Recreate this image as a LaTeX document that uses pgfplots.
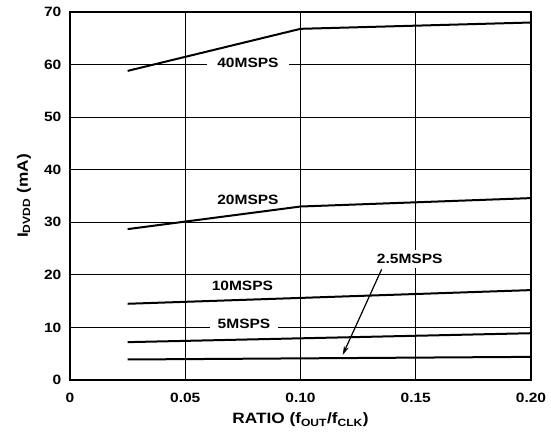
\documentclass[border=0pt]{standalone}
\usepackage{fontspec}
\setmainfont{Liberation Sans}[FakeStretch=1.15]
\usepackage{pgfplots}
\pgfplotsset{compat=1.18}
\usetikzlibrary{arrows.meta}
\begin{document}
\fontsize{13.5}{15}\selectfont\bfseries
\begin{tikzpicture}
\begin{axis}[name=ax, scale only axis, width=461pt, height=368pt,
  xmin=0, xmax=0.2, ymin=0, ymax=70,
  xtick={0,0.05,0.10,0.15,0.20}, xticklabels={0,0.05,0.10,0.15,0.20},
  ytick={0,10,20,30,40,50,60,70},
  /pgf/number format/assume math mode=true,
  grid=major, major grid style={black, line width=0.8pt},
  axis line style={line width=1.6pt}, major tick length=0pt,
  tick label style={font=\fontsize{13.5}{15}\selectfont\bfseries},
  yticklabel style={xshift=-4pt},
  xticklabel style={yshift=-8pt},
  xlabel={RATIO (f\textsubscript{OUT}/f\textsubscript{CLK})},
  ylabel={I\textsubscript{DVDD} (mA)},
  xlabel style={at={(axis description cs:0.5,-0.109)}, anchor=center, font=\fontsize{15}{17}\selectfont\bfseries},
  ylabel style={at={(axis description cs:-0.1,0.5)}, anchor=center, font=\fontsize{15}{17}\selectfont\bfseries},
  no markers,
  clip=false,
]
\addplot[black, line width=2pt] coordinates {(0.025,58.8) (0.10,66.8) (0.20,68.0)};
\addplot[black, line width=2pt] coordinates {(0.025,28.7) (0.10,33.0) (0.20,34.6)};
\addplot[black, line width=2pt] coordinates {(0.025,14.5) (0.20,17.1)};
\addplot[black, line width=2pt] coordinates {(0.025,7.2) (0.20,8.9)};
\addplot[black, line width=2pt] coordinates {(0.025,3.9) (0.20,4.4)};
\node[fill=white, inner xsep=10pt, inner ysep=2pt] at (axis cs:0.0772,60.3) {40MSPS};
\node[fill=white, inner xsep=6pt, inner ysep=2pt] at (axis cs:0.0772,34.2) {20MSPS};
\node[fill=white, inner xsep=6pt, inner ysep=2pt] at (axis cs:0.0748,17.9) {10MSPS};
\node[fill=white, inner xsep=8pt, inner ysep=2pt] at (axis cs:0.0755,10.65) {5MSPS};
\node[fill=white, inner xsep=6pt, inner ysep=4pt] at (axis cs:0.1474,23.0) {2.5MSPS};
\draw[line width=1.2pt, -{Stealth[length=9pt,width=5pt]}] (axis cs:0.1352,21.06) -- (axis cs:0.1183,4.76);
\end{axis}
\pgfresetboundingbox
\path ([shift={(-70pt,-51pt)}]ax.south west) rectangle ([shift={(20pt,12pt)}]ax.north east);
\end{tikzpicture}
\end{document}
